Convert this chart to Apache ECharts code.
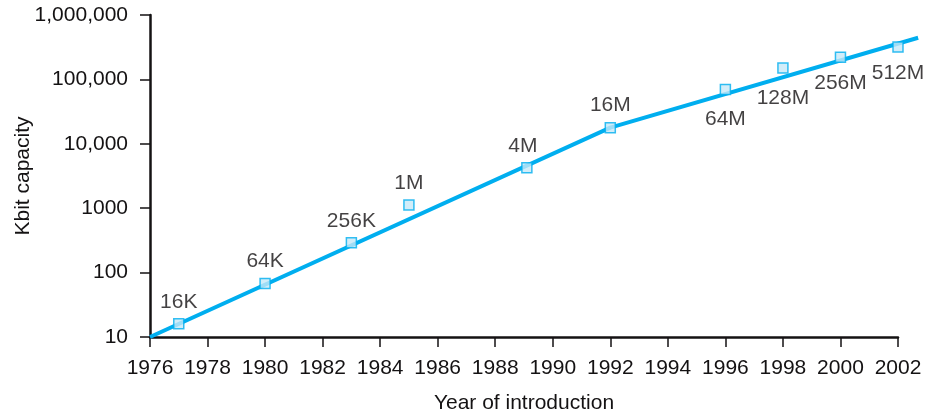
<!DOCTYPE html>
<html>
<head>
<meta charset="utf-8">
<script src="https://cdn.jsdelivr.net/npm/echarts@6/dist/echarts.min.js"></script>
<style>
html,body{margin:0;padding:0;background:#fff;}
#chart{width:934px;height:416px;}
</style>
</head>
<body>
<div id="chart"></div>
<script>
// Data
const chipNames = ['16K','64K','256K','1M','4M','16M','64M','128M','256M','512M'];
const chipYears = [1977, 1980, 1983, 1985, 1989.1, 1992, 1996, 1998, 2000, 2002];
const chipKbit  = [16, 68, 290, 1120, 4260, 17800, 70000, 150000, 220000, 318000];
const trendYears = [1976, 1992, 2002.7];
const trendKbit  = [10, 17800, 444000];
const yearTicks = [1976, 2002, 2];        // min, max, step
const trendYearMax = 2002.7;              // trend line runs past the last tick
const capacityRange = [10, 1000000];

// label placement (styling, not data)
const labelPlacement = {
  '16K':  {position:'top', distance:5},
  '64K':  {position:'top', distance:6},
  '256K': {position:'top', distance:5},
  '1M':   {position:'top', distance:6},
  '4M':   {position:'top', distance:5, offset:[-4,0]},
  '16M':  {position:'top', distance:6},
  '64M':  {position:'bottom', distance:14},
  '128M': {position:'bottom', distance:14},
  '256M': {position:'bottom', distance:10},
  '512M': {position:'bottom', distance:10}
};

const FONT = '"Liberation Sans", Arial, Helvetica, sans-serif';
const INK = '#141213';
const BLUE = '#00aeef';
const FS = 21;

const chart = echarts.init(document.getElementById('chart'), null, {renderer:'canvas'});

// geometry of main plot
const L = 150, T = 15, R = 36, B = 79;
const plotW = 934 - L - R;
const pxPerYear = plotW / (yearTicks[1] - yearTicks[0]);
const trendRight = 934 - (L + (trendYearMax - yearTicks[0]) * pxPerYear);

const markerData = chipYears.map((y, i) => {
  const pl = labelPlacement[chipNames[i]];
  return {
    value: [y, chipKbit[i]],
    name: chipNames[i],
    label: Object.assign({}, pl)
  };
});

chart.setOption({
  animation: false,
  backgroundColor: '#fff',
  grid: [
    {left: L, right: R, top: T, bottom: B, containLabel: false, outerBoundsMode: 'none'},
    {left: L, right: trendRight, top: T, bottom: B, containLabel: false, outerBoundsMode: 'none'}
  ],
  xAxis: [{
    type: 'value',
    gridIndex: 0,
    min: yearTicks[0], max: yearTicks[1], interval: yearTicks[2],
    name: 'Year of introduction',
    nameLocation: 'middle',
    nameGap: 56,
    nameMoveOverlap: false,
    nameTextStyle: {fontFamily: FONT, fontSize: FS, color: INK},
    axisLine: {show: true, onZero: false, lineStyle: {color: INK, width: 2.5}},
    axisTick: {show: true, length: 10, lineStyle: {color: INK, width: 1.5}},
    axisLabel: {
      fontFamily: FONT, fontSize: FS, color: INK, margin: 21,
      formatter: v => String(v)
    },
    splitLine: {show: false}
  }, {
    type: 'value',
    gridIndex: 1,
    min: yearTicks[0], max: trendYearMax,
    show: false
  }],
  yAxis: [{
    type: 'log',
    gridIndex: 0,
    logBase: 10,
    min: capacityRange[0], max: capacityRange[1],
    name: 'Kbit capacity',
    nameLocation: 'middle',
    nameGap: 116,
    nameRotate: 90,
    nameMoveOverlap: false,
    nameTextStyle: {fontFamily: FONT, fontSize: FS, color: INK},
    axisLine: {show: true, lineStyle: {color: INK, width: 2.5}},
    axisTick: {show: true, length: 10, lineStyle: {color: INK, width: 1.5}},
    axisLabel: {
      fontFamily: FONT, fontSize: FS, color: INK, margin: 22,
      formatter: v => v >= 10000 ? Number(v).toLocaleString('en-US') : String(Math.round(v))
    },
    minorTick: {show: false},
    splitLine: {show: false}
  }, {
    type: 'log',
    gridIndex: 1,
    logBase: 10,
    min: capacityRange[0], max: capacityRange[1],
    show: false
  }],
  series: [
    {
      type: 'line',
      xAxisIndex: 1, yAxisIndex: 1,
      data: trendYears.map((y, i) => [y, trendKbit[i]]),
      showSymbol: false,
      symbol: 'none',
      clip: false,
      lineStyle: {color: BLUE, width: 4},
      z: 2
    },
    {
      type: 'scatter',
      xAxisIndex: 0, yAxisIndex: 0,
      data: markerData,
      symbol: 'rect',
      symbolSize: 10,
      clip: false,
      itemStyle: {color: '#c7e9f8', borderColor: BLUE, borderWidth: 1.5},
      label: {
        show: true,
        formatter: p => p.name,
        fontFamily: FONT, fontSize: FS, color: INK
      },
      z: 3
    }
  ]
});
</script>
</body>
</html>
